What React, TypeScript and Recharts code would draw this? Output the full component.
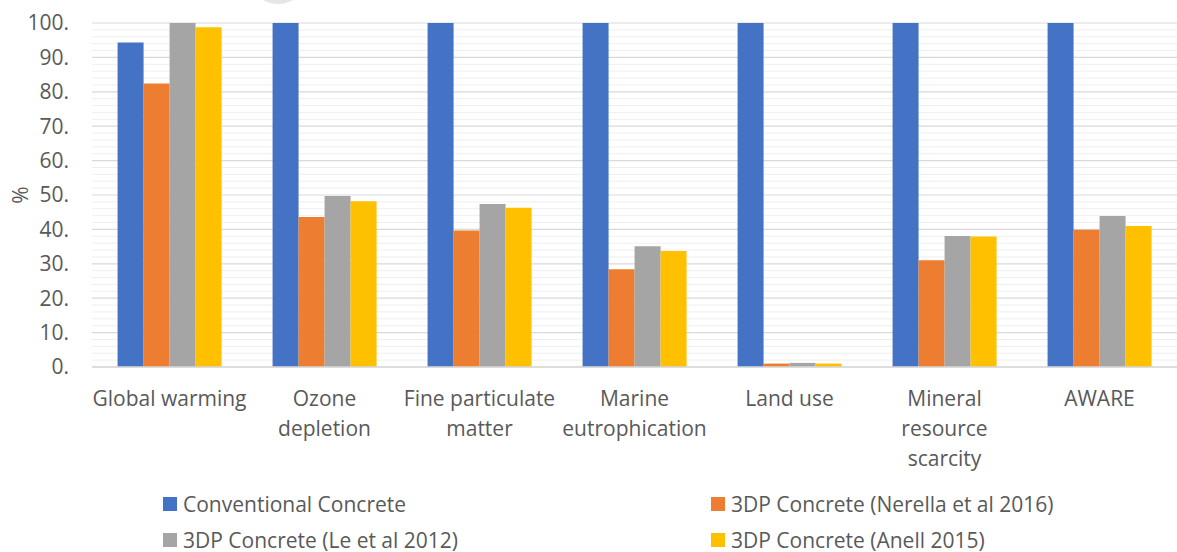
import React from "react";
import { BarChart, Bar, XAxis, YAxis, CartesianGrid } from "recharts";

const categories = [
  "Global warming",
  "Ozone depletion",
  "Fine particulate matter",
  "Marine eutrophication",
  "Land use",
  "Mineral resource scarcity",
  "AWARE",
];
const categoryLines = [
  ["Global warming"],
  ["Ozone", "depletion"],
  ["Fine particulate", "matter"],
  ["Marine", "eutrophication"],
  ["Land use"],
  ["Mineral", "resource", "scarcity"],
  ["AWARE"],
];
const conventional = [94.3, 100, 100, 100, 100, 100, 100];
const nerella = [82.4, 43.6, 39.7, 28.4, 1.0, 31.0, 39.9];
const le = [100, 49.7, 47.4, 35.1, 1.2, 38.1, 43.9];
const anell = [98.8, 48.2, 46.3, 33.7, 1.0, 37.9, 41.0];
const yTicks = [0, 10, 20, 30, 40, 50, 60, 70, 80, 90, 100];
const yMinorTicks = Array.from({ length: 51 }, (_, i) => i * 2);
const Y_MAX = 100;

const series = [
  { key: "conventional", name: "Conventional Concrete", color: "#4472C4" },
  { key: "nerella", name: "3DP Concrete (Nerella et al 2016)", color: "#ED7D31" },
  { key: "le", name: "3DP Concrete (Le et al 2012)", color: "#A5A5A5" },
  { key: "anell", name: "3DP Concrete (Anell 2015)", color: "#FFC000" },
];

const data = categories.map((c, i) => ({
  category: c,
  conventional: conventional[i],
  nerella: nerella[i],
  le: le[i],
  anell: anell[i],
}));

const FONT = "'Open Sans', sans-serif";
const TEXT = "#595959";

const XTick = (props: any) => {
  const { x, y, payload } = props;
  const lines = categoryLines[payload.index] || [payload.value];
  return (
    <text x={x} y={y} textAnchor="middle" fill={TEXT} fontSize={21} fontFamily={FONT}>
      {lines.map((l: string, i: number) => (
        <tspan key={i} x={x} dy={i === 0 ? 37 : 30}>
          {l}
        </tspan>
      ))}
    </text>
  );
};

const legendPos = [
  { left: 163, top: 497 },
  { left: 711, top: 497 },
  { left: 163, top: 533 },
  { left: 711, top: 533 },
];

const minorGen = (p: any) => {
  const minors = yMinorTicks.filter((t) => t % 10 !== 0);
  const s = p?.yAxis?.scale;
  if (typeof s === "function") return minors.map((t) => s(t));
  if (s && typeof s.map === "function") return minors.map((t) => s.map(t));
  const off = p?.offset || {};
  const top = off.top ?? 23;
  const h = off.height ?? 344;
  return minors.map((t) => top + h * (1 - t / Y_MAX));
};

export default function App() {
  return (
    <div
      style={{
        position: "relative",
        width: 1177,
        height: 552,
        overflow: "hidden",
        background: "#fff",
        fontFamily: FONT,
      }}
    >
      <style>{`html,body{margin:0;padding:0;overflow:hidden;}`}</style>
      <BarChart
        width={1177}
        height={552}
        data={data}
        margin={{ top: 23, right: 0, left: 0, bottom: 85 }}
        barCategoryGap="16.5%"
        barGap={0}
      >
        <CartesianGrid
          vertical={false}
          stroke="#efefef"
          strokeWidth={1}
          horizontalCoordinatesGenerator={minorGen}
        />
        <CartesianGrid vertical={false} stroke="#d9d9d9" strokeWidth={1.2} />
        <XAxis
          dataKey="category"
          height={100}
          tick={<XTick />}
          tickLine={false}
          tickSize={0}
          axisLine={{ stroke: "#d9d9d9", strokeWidth: 1.6 }}
          interval={0}
        />
        <YAxis
          width={92}
          domain={[0, Y_MAX]}
          ticks={yTicks}
          tickFormatter={(v: number) => `${v}.`}
          axisLine={false}
          tickLine={false}
          tickSize={0}
          tickMargin={23}
          tick={{ fill: TEXT, fontSize: 21, fontFamily: FONT }}
          label={{
            value: "%",
            angle: -90,
            position: "insideLeft",
            offset: 21,
            fill: TEXT,
            fontSize: 21,
            fontFamily: FONT,
            textAnchor: "middle",
          }}
        />
        {series.map((s) => (
          <Bar
            key={s.key}
            dataKey={s.key}
            name={s.name}
            fill={s.color}
            isAnimationActive={false}
          />
        ))}
      </BarChart>
      <div
        style={{
          position: "absolute",
          left: 248,
          top: -56,
          width: 60,
          height: 60,
          borderRadius: "50%",
          background: "#e4e5e8",
          zIndex: 2,
        }}
      />
      {series.map((s, i) => (
        <div
          key={s.key}
          style={{
            position: "absolute",
            left: legendPos[i].left,
            top: legendPos[i].top,
            display: "flex",
            alignItems: "center",
            height: 14,
            whiteSpace: "nowrap",
          }}
        >
          <div style={{ width: 14, height: 14, background: s.color, marginRight: 6 }} />
          <span style={{ fontSize: 21, color: TEXT, lineHeight: "14px" }}>{s.name}</span>
        </div>
      ))}
    </div>
  );
}
